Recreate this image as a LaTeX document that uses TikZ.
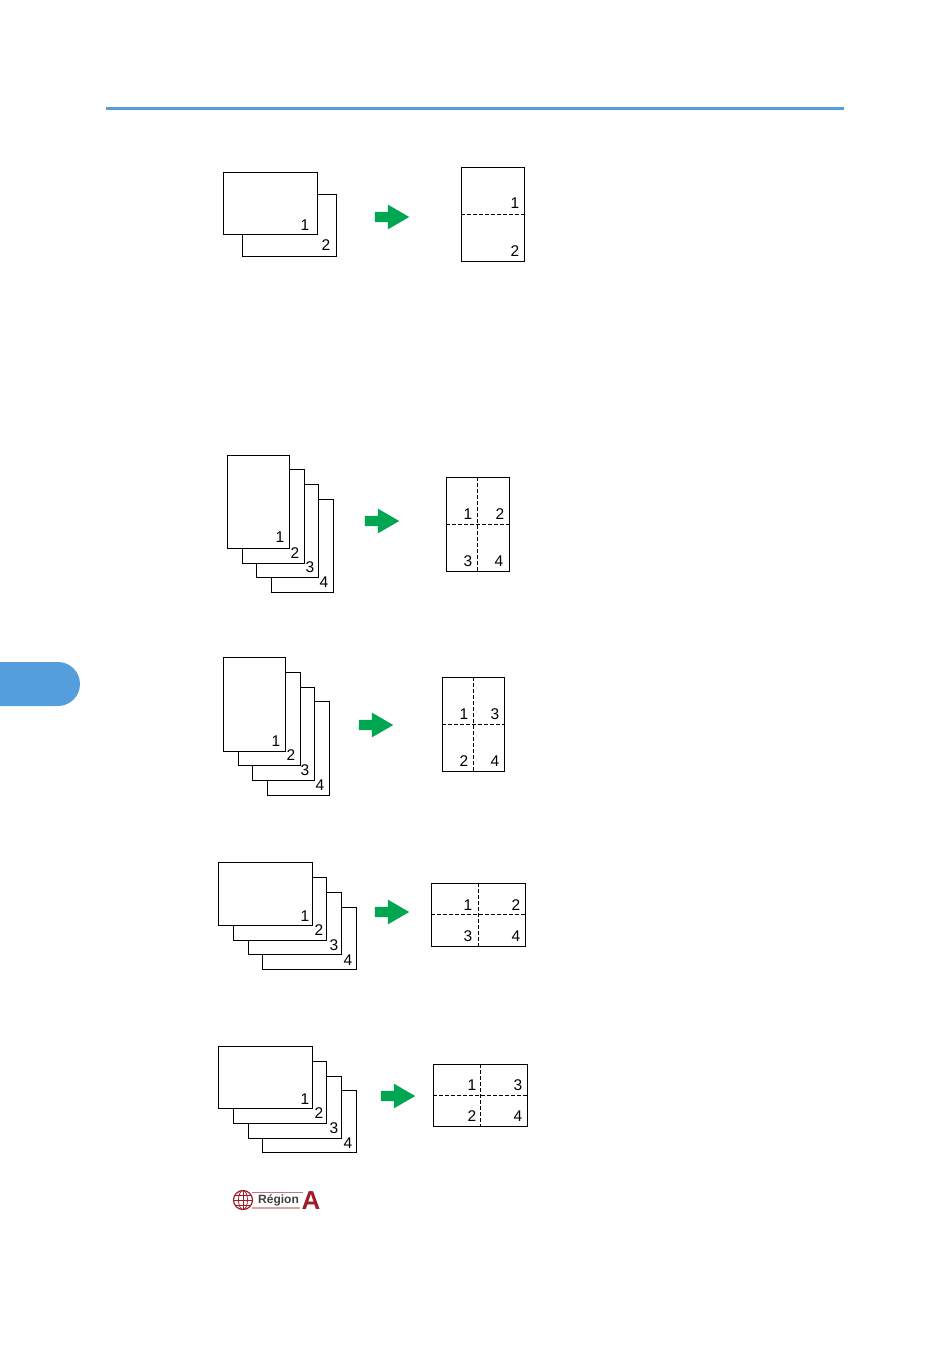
\documentclass[tikz,border=0pt]{standalone}
\usepackage{fontspec}
\setmainfont{Liberation Sans}
\usepackage{xcolor}
\usetikzlibrary{shapes.arrows}
\definecolor{rulecolor}{RGB}{84,158,220}
\definecolor{arrowgreen}{RGB}{0,166,81}
\definecolor{regionred}{RGB}{158,28,40}
\tikzset{
  sheet/.style={draw=black, fill=white, line width=1pt, anchor=north west, inner sep=0pt, outer sep=0pt},
  num/.style={inner sep=0pt, yshift=-0.4pt, font=\fontsize{15.5}{15.5}\selectfont},
  fold/.style={draw=black, line width=0.9pt, dash pattern=on 3.5pt off 2.5pt},
  greenarrow/.style={single arrow, fill=arrowgreen, inner sep=5pt, outer sep=0pt, minimum width=22pt, minimum height=34.5pt, single arrow tip angle=60, single arrow head indent=0pt}
}
\begin{document}
\begin{tikzpicture}[x=1pt,y=-1pt]
    \useasboundingbox (0,0) rectangle (950,1348);
    % page furniture
    \draw[rulecolor, line width=3pt] (106,108.5) -- (844,108.5);
    \fill[rulecolor, rounded corners=22pt] (-30,662) rectangle (80,706);

    % 1 to 2, landscape
    \node[sheet, minimum width=94pt, minimum height=62pt] (a2) at (242,194.5) {};
    \node[sheet, minimum width=94pt, minimum height=62pt] (a1) at (223,172.5) {};
    \node[num] (a1n) at (305,225) {1};
    \node[num] (a2n) at (326,245) {2};
    \node[greenarrow] (aarrow) at (387.5,217) {};
    \node[sheet, minimum width=63pt, minimum height=94pt] (ar) at (461,167.5) {};
    \draw[fold] (ar.west) -- (ar.east);
    \node[num] (ar1) at (515,203) {1};
    \node[num] (ar2) at (515,251) {2};

    % 4 to 1, portrait, row order
    \node[sheet, minimum width=62pt, minimum height=93pt] (b4) at (271,499) {};
    \node[sheet, minimum width=62pt, minimum height=93pt] (b3) at (256,484) {};
    \node[sheet, minimum width=62pt, minimum height=94pt] (b2) at (242,469) {};
    \node[sheet, minimum width=62pt, minimum height=93pt] (b1) at (227,455) {};
    \node[num] (b1n) at (280,537) {1};
    \node[num] (b2n) at (295,553) {2};
    \node[num] (b3n) at (310,567) {3};
    \node[num] (b4n) at (324,582) {4};
    \node[greenarrow] (barrow) at (377.5,521) {};
    \node[sheet, minimum width=63pt, minimum height=94pt] (br) at (446,477) {};
    \draw[fold] (br.west) -- (br.east);
    \draw[fold] (br.north) -- (br.south);
    \node[num] (br1) at (468,514) {1};
    \node[num] (br2) at (500,514) {2};
    \node[num] (br3) at (468,561) {3};
    \node[num] (br4) at (499,561) {4};

    % 4 to 1, portrait, column order
    \node[sheet, minimum width=62pt, minimum height=94pt] (c4) at (267,701) {};
    \node[sheet, minimum width=62pt, minimum height=93pt] (c3) at (252,687) {};
    \node[sheet, minimum width=62pt, minimum height=93pt] (c2) at (238,672) {};
    \node[sheet, minimum width=62pt, minimum height=94pt] (c1) at (223,657) {};
    \node[num] (c1n) at (276,741) {1};
    \node[num] (c2n) at (291,755) {2};
    \node[num] (c3n) at (305,770) {3};
    \node[num] (c4n) at (320,785) {4};
    \node[greenarrow] (carrow) at (371.5,725) {};
    \node[sheet, minimum width=62pt, minimum height=94pt] (cr) at (442,677) {};
    \draw[fold] (cr.west) -- (cr.east);
    \draw[fold] (cr.north) -- (cr.south);
    \node[num] (cr1) at (464,714) {1};
    \node[num] (cr3) at (495,714) {3};
    \node[num] (cr2) at (464,761) {2};
    \node[num] (cr4) at (495,761) {4};

    % 4 to 1, landscape, row order
    \node[sheet, minimum width=94pt, minimum height=62pt] (d4) at (262,907) {};
    \node[sheet, minimum width=93pt, minimum height=62pt] (d3) at (248,892) {};
    \node[sheet, minimum width=93pt, minimum height=63pt] (d2) at (233,877) {};
    \node[sheet, minimum width=94pt, minimum height=63pt] (d1) at (218,862) {};
    \node[num] (d1n) at (305,916) {1};
    \node[num] (d2n) at (319,930) {2};
    \node[num] (d3n) at (334,945) {3};
    \node[num] (d4n) at (348,960) {4};
    \node[greenarrow] (darrow) at (387.5,912) {};
    \node[sheet, minimum width=94pt, minimum height=63pt] (dr) at (431,883) {};
    \draw[fold] (dr.west) -- (dr.east);
    \draw[fold] (dr.north) -- (dr.south);
    \node[num] (dr1) at (468,905) {1};
    \node[num] (dr2) at (516,905) {2};
    \node[num] (dr3) at (468,936) {3};
    \node[num] (dr4) at (516,936) {4};

    % 4 to 1, landscape, column order
    \node[sheet, minimum width=94pt, minimum height=62pt] (e4) at (262,1090) {};
    \node[sheet, minimum width=93pt, minimum height=62pt] (e3) at (248,1076) {};
    \node[sheet, minimum width=93pt, minimum height=62pt] (e2) at (233,1061) {};
    \node[sheet, minimum width=94pt, minimum height=62pt] (e1) at (218,1046) {};
    \node[num] (e1n) at (305,1099) {1};
    \node[num] (e2n) at (319,1113) {2};
    \node[num] (e3n) at (334,1128) {3};
    \node[num] (e4n) at (348,1143) {4};
    \node[greenarrow] (earrow) at (393.5,1096) {};
    \node[sheet, minimum width=94pt, minimum height=62pt] (er) at (433,1064) {};
    \draw[fold] (er.west) -- (er.east);
    \draw[fold] (er.north) -- (er.south);
    \node[num] (er1) at (472,1085) {1};
    \node[num] (er3) at (518,1085) {3};
    \node[num] (er2) at (472,1116) {2};
    \node[num] (er4) at (518,1116) {4};

    % region mark
    \draw[regionred, line width=1.2pt] (243,1200) circle (9.5);
    \draw[regionred, line width=0.8pt] (243,1190.5) -- (243,1209.5);
    \draw[regionred, line width=0.8pt] (233.5,1200) -- (252.5,1200);
    \draw[regionred, line width=0.8pt] (243,1200) ellipse (4.5 and 9.5);
    \draw[regionred, line width=0.8pt] (235,1195) -- (251,1195);
    \draw[regionred, line width=0.8pt] (235,1205) -- (251,1205);
    \draw[regionred!60, line width=1pt] (252,1192) -- (303,1192);
    \draw[regionred!40, line width=1.4pt] (252,1208) -- (300,1208);
    \node[inner sep=0pt, text=black!75, font=\fontsize{12}{12}\selectfont\bfseries] (regiontext) at (278.5,1200.5) {Région};
    \node[inner sep=0pt, text=regionred, font=\fontsize{26}{26}\selectfont\bfseries] (regionA) at (311,1201) {A};
\end{tikzpicture}
\end{document}
